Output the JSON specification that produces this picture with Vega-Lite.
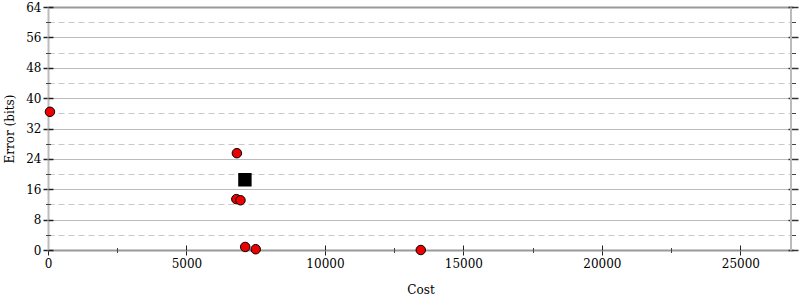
{
  "$schema": "https://vega.github.io/schema/vega-lite/v6.json",
  "width": 745,
  "height": 243,
  "autosize": "none",
  "padding": {"left": 48, "top": 7, "right": 7, "bottom": 50},
  "config": {
    "view": {"stroke": null},
    "font": "'DejaVu Serif', 'Liberation Serif', serif",
    "axis": {
      "labelFont": "'DejaVu Serif', 'Liberation Serif', serif",
      "titleFont": "'DejaVu Serif', 'Liberation Serif', serif",
      "labelFontSize": 12,
      "titleFontSize": 12,
      "titleFontWeight": "normal",
      "labelColor": "#000",
      "titleColor": "#000",
      "tickColor": "#222",
      "grid": false
    }
  },
  "data": {
    "values": [
      {"cost": 70, "error": 36.4, "kind": "circle"},
      {"cost": 6820, "error": 25.5, "kind": "circle"},
      {"cost": 6800, "error": 13.4, "kind": "circle"},
      {"cost": 6950, "error": 13.1, "kind": "circle"},
      {"cost": 7120, "error": 0.8, "kind": "circle"},
      {"cost": 7500, "error": 0.2, "kind": "circle"},
      {"cost": 13460, "error": 0, "kind": "circle"},
      {"cost": 7110, "error": 18.5, "kind": "square"}
    ]
  },
  "resolve": {"axis": {"x": "independent", "y": "independent"}},
  "layer": [
    {
      "transform": [{"filter": "datum.kind === 'circle'"}],
      "mark": {"type": "point", "opacity": 0},
      "encoding": {
        "x": {"field": "cost", "type": "quantitative", "scale": {"domain": [0, 26900], "nice": false, "zero": false},
          "axis": {"orient": "bottom", "values": [0, 5000, 10000, 15000, 20000, 25000], "format": "d", "tickSize": 5, "tickWidth": 1, "domainColor": "#999", "domainWidth": 2, "labelPadding": 3, "title": "Cost", "titlePadding": 15, "labelFlush": false}},
        "y": {"field": "error", "type": "quantitative", "scale": {"domain": [0, 64], "nice": false},
          "axis": {"orient": "left", "values": [0, 8, 16, 24, 32, 40, 48, 56, 64], "tickSize": 5, "tickWidth": 1.5, "domainColor": "#bbb", "domainWidth": 2, "grid": true, "gridColor": "#bbb", "gridWidth": 1, "labelPadding": 2, "title": "Error (bits)", "titlePadding": 9}}
      }
    },
    {
      "transform": [{"filter": "datum.kind === 'circle'"}],
      "mark": {"type": "point", "opacity": 0},
      "encoding": {
        "x": {"field": "cost", "type": "quantitative", "scale": {"domain": [0, 26900], "nice": false, "zero": false},
          "axis": {"orient": "bottom", "values": [0, 5000, 10000, 15000, 20000, 25000], "tickSize": -5, "tickWidth": 1, "domain": false, "labels": false, "title": null}},
        "y": {"field": "error", "type": "quantitative", "scale": {"domain": [0, 64], "nice": false},
          "axis": {"orient": "left", "values": [0, 8, 16, 24, 32, 40, 48, 56, 64], "tickSize": -5, "tickWidth": 1.5, "domain": false, "labels": false, "title": null}}
      }
    },
    {
      "transform": [{"filter": "datum.kind === 'circle'"}],
      "mark": {"type": "point", "opacity": 0},
      "encoding": {
        "x": {"field": "cost", "type": "quantitative", "scale": {"domain": [0, 26900], "nice": false, "zero": false},
          "axis": {"orient": "bottom", "values": [2500, 7500, 12500, 17500, 22500], "tickSize": 5, "offset": -2.5, "tickWidth": 1, "tickColor": "#444", "domain": false, "labels": false, "title": null}},
        "y": {"field": "error", "type": "quantitative", "scale": {"domain": [0, 64], "nice": false},
          "axis": {"orient": "left", "values": [4, 12, 20, 28, 36, 44, 52, 60], "tickSize": 5, "offset": -2.5, "tickWidth": 1, "tickColor": "#444", "domain": false, "labels": false, "title": null, "grid": true, "gridColor": "#c8c8c8", "gridDash": [6, 4], "gridWidth": 1}}
      }
    },
    {
      "transform": [{"filter": "datum.kind === 'circle'"}],
      "mark": {"type": "point", "opacity": 0},
      "encoding": {
        "x": {"field": "cost", "type": "quantitative", "scale": {"domain": [0, 26900], "nice": false, "zero": false},
          "axis": {"orient": "top", "values": [], "ticks": false, "domainColor": "#999", "domainWidth": 2, "labels": false, "title": null}},
        "y": {"field": "error", "type": "quantitative", "scale": {"domain": [0, 64], "nice": false},
          "axis": {"orient": "right", "values": [0, 8, 16, 24, 32, 40, 48, 56, 64], "tickSize": 10, "offset": -5, "tickWidth": 1.5, "tickColor": "#333", "domain": false, "labels": false, "title": null}}
      }
    },
    {
      "transform": [{"filter": "datum.kind === 'circle'"}],
      "mark": {"type": "point", "opacity": 0},
      "encoding": {
        "x": {"field": "cost", "type": "quantitative", "scale": {"domain": [0, 26900], "nice": false, "zero": false},
          "axis": null},
        "y": {"field": "error", "type": "quantitative", "scale": {"domain": [0, 64], "nice": false},
          "axis": {"orient": "right", "values": [4, 12, 20, 28, 36, 44, 52, 60], "tickSize": 5, "offset": -2.5, "tickWidth": 1, "tickColor": "#444", "domainColor": "#bbb", "domainWidth": 2, "labels": false, "title": null}}
      }
    },
    {
      "transform": [{"filter": "datum.kind === 'circle'"}],
      "mark": {"type": "point", "shape": "circle", "filled": true, "fill": "#ee0000", "stroke": "#000", "strokeWidth": 1, "size": 90, "opacity": 1},
      "encoding": {
        "x": {"field": "cost", "type": "quantitative", "scale": {"domain": [0, 26900], "nice": false, "zero": false}, "axis": null},
        "y": {"field": "error", "type": "quantitative", "scale": {"domain": [0, 64], "nice": false}, "axis": null}
      }
    },
    {
      "transform": [{"filter": "datum.kind === 'square'"}],
      "mark": {"type": "point", "shape": "square", "filled": true, "fill": "#000", "stroke": "#000", "size": 130, "opacity": 1},
      "encoding": {
        "x": {"field": "cost", "type": "quantitative", "scale": {"domain": [0, 26900], "nice": false, "zero": false}, "axis": null},
        "y": {"field": "error", "type": "quantitative", "scale": {"domain": [0, 64], "nice": false}, "axis": null}
      }
    }
  ]
}
